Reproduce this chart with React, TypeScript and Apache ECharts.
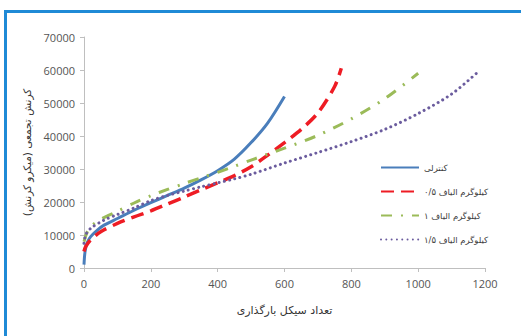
import React, { useEffect, useRef } from "react";
import * as echarts from "echarts";

const seriesNames = [
  "کنترلی",
  "۰/۵ کیلوگرم الیاف",
  "۱ کیلوگرم الیاف",
  "۱/۵ کیلوگرم الیاف",
];

const controlCycles = [0, 2, 5, 10, 20, 40, 60, 100, 150, 200, 250, 300, 350, 400, 450, 500, 550, 600];
const controlStrain = [1000, 4000, 6000, 7800, 9500, 11500, 13000, 15000, 17500, 19800, 22000, 24200, 26700, 29500, 33000, 38000, 44000, 52000];

const half_Cycles = [0, 5, 20, 50, 100, 150, 200, 250, 300, 350, 400, 450, 500, 550, 600, 650, 700, 750, 770];
const half_Strain = [5000, 6500, 8500, 11000, 13500, 15500, 17300, 19400, 21500, 23700, 25800, 28000, 30700, 34200, 38000, 42000, 47000, 55000, 60500];

const oneCycles = [0, 10, 25, 50, 100, 150, 200, 250, 300, 350, 400, 450, 500, 600, 700, 800, 900, 1000];
const oneStrain = [8000, 11000, 13000, 14800, 17200, 19700, 21900, 23800, 25600, 27300, 29000, 30800, 32700, 36300, 40200, 45200, 51300, 59000];

const oneHalfCycles = [0, 5, 20, 60, 100, 150, 200, 250, 300, 350, 400, 450, 500, 600, 700, 800, 900, 1000, 1100, 1180];
const oneHalfStrain = [7500, 10000, 12000, 14500, 16200, 18200, 20400, 22000, 23300, 24600, 25800, 27000, 28400, 31800, 35000, 38300, 42000, 46800, 52700, 59500];

const xTicks = [0, 200, 400, 600, 800, 1000, 1200];
const yTicks = [0, 10000, 20000, 30000, 40000, 50000, 60000, 70000];

const xTitle = "تعداد سیکل بارگذاری";
const yTitle = "کرنش تجمعی (میکرو کرنش)";

const zip = (xs: number[], ys: number[]) => xs.map((x, i) => [x, ys[i]]);

export default function App() {
  const ref = useRef<HTMLDivElement>(null);
  useEffect(() => {
    if (!ref.current) return;
    const chart = echarts.init(ref.current, undefined, { renderer: "svg" });
    const persian = "DejaVu Sans";
    const mk = (name: string, data: number[][], color: string, width: number, type: any, cap: any = "butt") => ({
      name,
      type: "line",
      data,
      smooth: 0.3,
      symbol: "none",
      lineStyle: { color, width, type, cap },
      itemStyle: { color },
    });
    chart.setOption({
      animation: false,
      backgroundColor: "#ffffff",
      grid: { left: 84, right: 36, top: 37, bottom: 68, containLabel: false },
      xAxis: {
        type: "value",
        min: xTicks[0],
        max: xTicks[xTicks.length - 1],
        interval: 200,
        name: xTitle,
        nameLocation: "middle",
        nameGap: 37,
        nameTextStyle: { fontFamily: persian, fontSize: 11, color: "#333" },
        axisLine: { show: true, lineStyle: { color: "#bfbfbf", width: 1 } },
        axisTick: { show: true, length: 4, lineStyle: { color: "#bfbfbf" } },
        axisLabel: { fontFamily: "Open Sans", fontSize: 11, color: "#555", margin: 10, formatter: (v: number) => String(v) },
        splitLine: { show: false },
      },
      yAxis: {
        type: "value",
        min: yTicks[0],
        max: yTicks[yTicks.length - 1],
        interval: 10000,
        name: yTitle,
        nameLocation: "middle",
        nameGap: 51,
        nameTextStyle: { fontFamily: persian, fontSize: 10.5, color: "#333" },
        axisLine: { show: true, lineStyle: { color: "#bfbfbf", width: 1 } },
        axisTick: { show: true, length: 4, lineStyle: { color: "#bfbfbf" } },
        axisLabel: { fontFamily: "Open Sans", fontSize: 11, color: "#555", margin: 9, formatter: (v: number) => String(v) },
        splitLine: { show: false },
      },
      legend: {
        orient: "vertical",
        left: 375,
        top: 158,
        itemWidth: 38,
        itemHeight: 10,
        itemGap: 15,
        itemStyle: { opacity: 0 },
        textStyle: { fontFamily: persian, fontSize: 8.5, color: "#404040" },
        data: seriesNames,
      },
      series: [
        mk(seriesNames[0], zip(controlCycles, controlStrain), "#4a7ebb", 3, "solid"),
        mk(seriesNames[1], zip(half_Cycles, half_Strain), "#ee1c24", 3.5, [13, 7]),
        mk(seriesNames[2], zip(oneCycles, oneStrain), "#9bbb59", 3, [11, 9, 2, 9]),
        mk(seriesNames[3], zip(oneHalfCycles, oneHalfStrain), "#6b5c9e", 3, [0.01, 5.3], "round"),
      ],
    });
    return () => chart.dispose();
  }, []);
  return (
    <div style={{ position: "fixed", left: 0, top: 0, width: 521, height: 336, background: "#fff" }}>
      <div ref={ref} style={{ position: "absolute", left: 0, top: 0, width: 521, height: 336 }} />
      <div
        style={{
          position: "absolute",
          left: 4,
          top: 10,
          width: 517,
          height: 326,
          borderLeft: "3px solid #1f8ad6",
          borderTop: "3px solid #1f8ad6",
          boxSizing: "border-box",
          pointerEvents: "none",
        }}
      />
    </div>
  );
}
